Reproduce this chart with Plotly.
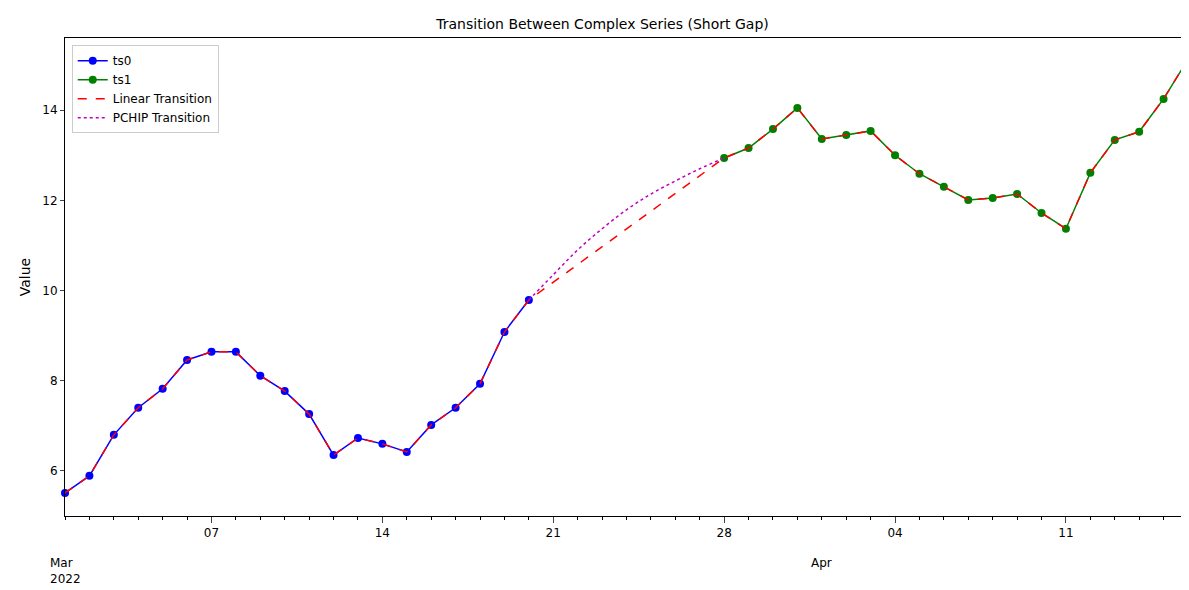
import plotly.graph_objects as go
import pandas as pd

ts0_dates = pd.date_range("2022-03-01", "2022-03-20", freq="D")
ts0_values = [5.51, 5.89, 6.80, 7.40, 7.82, 8.46, 8.64, 8.64, 8.11, 7.77,
              7.26, 6.35, 6.73, 6.60, 6.42, 7.02, 7.40, 7.93, 9.08, 9.79]
ts1_dates = pd.date_range("2022-03-28", "2022-04-16", freq="D")
ts1_values = [12.94, 13.16, 13.58, 14.05, 13.36, 13.45, 13.54, 13.00, 12.59, 12.30,
              12.01, 12.05, 12.14, 11.72, 11.37, 12.61, 13.34, 13.52, 14.25, 15.13]
pchip_dates = pd.date_range("2022-03-20", "2022-03-28", freq="D")
pchip_values = [9.79, 10.35, 10.90, 11.37, 11.79, 12.14, 12.43, 12.70, 12.94]

tick_dates = ["2022-03-07", "2022-03-14", "2022-03-21", "2022-03-28", "2022-04-04", "2022-04-11"]
tick_labels = ["07", "14", "21", "28", "04", "11"]

fig = go.Figure()
fig.add_trace(go.Scatter(x=ts0_dates, y=ts0_values, name="ts0", mode="lines+markers", cliponaxis=False,
                         line=dict(color="blue", width=1.5), marker=dict(color="blue", size=8)))
fig.add_trace(go.Scatter(x=ts1_dates, y=ts1_values, name="ts1", mode="lines+markers", cliponaxis=False,
                         line=dict(color="green", width=1.5), marker=dict(color="green", size=8)))
fig.add_trace(go.Scatter(x=list(ts0_dates) + list(ts1_dates), y=ts0_values + ts1_values,
                         name="Linear Transition", mode="lines", cliponaxis=False,
                         line=dict(color="red", width=1.5, dash="dash")))
fig.add_trace(go.Scatter(x=pchip_dates, y=pchip_values, name="PCHIP Transition", mode="lines",
                         line=dict(color="#c000c0", width=1.5, dash="dot", shape="spline")))

fig.update_layout(
    width=1189, height=590, margin=dict(l=57, r=9, t=30, b=82, autoexpand=False),
    plot_bgcolor="white", paper_bgcolor="white",
    font=dict(family="DejaVu Sans", size=12, color="black"),
    title=dict(text="Transition Between Complex Series (Short Gap)", x=0.5, xanchor="center",
               y=0.972, yanchor="middle", font=dict(size=14)),
    legend=dict(x=0.006, y=0.985, xanchor="left", yanchor="top", bgcolor="white",
                bordercolor="#cccccc", borderwidth=1, font=dict(size=12), tracegroupgap=0),
    xaxis=dict(range=["2022-03-01", "2022-04-16"], tickvals=tick_dates, ticktext=tick_labels,
               ticks="outside", ticklen=6, showgrid=False, showline=True, linecolor="black",
               mirror=True, zeroline=False, automargin=False,
               minor=dict(dtick=86400000, ticks="outside", ticklen=3, tickcolor="black")),
    yaxis=dict(range=[5.0, 15.6], dtick=2, title=dict(text="Value", standoff=8),
               ticks="outside", ticklen=4, showgrid=False, showline=True, linecolor="black",
               mirror=True, zeroline=False, automargin=False),
)
fig.add_annotation(x="2022-03-01", y=0, yref="paper", yshift=-38, text="Mar<br>2022",
                   showarrow=False, xanchor="center", yanchor="top", align="left")
fig.add_annotation(x="2022-04-01", y=0, yref="paper", yshift=-38, text="Apr",
                   showarrow=False, xanchor="center", yanchor="top")
fig.write_html("out.html")
